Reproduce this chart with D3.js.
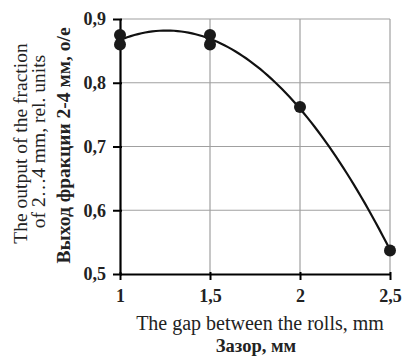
<!DOCTYPE html>
<html>
<head>
<meta charset="utf-8">
<script src="https://cdn.jsdelivr.net/npm/d3@7"></script>
<style>
  body { margin: 0; background: #fff; }
  text { font-family: "Liberation Serif", "DejaVu Serif", serif; }
</style>
</head>
<body>
<div id="chart"></div>
<script>
// measured points (gap, output)
var gapMm = [1, 1, 1.5, 1.5, 2, 2.5];
var output = [0.875, 0.86, 0.875, 0.86, 0.762, 0.537];
var xTicks = [1, 1.5, 2, 2.5];
var yTicks = [0.5, 0.6, 0.7, 0.8, 0.9];

var W = 403, H = 356;
var margin = {top: 19, right: 13, bottom: 82, left: 120},
    width = W - margin.left - margin.right,
    height = H - margin.top - margin.bottom;

var x = d3.scaleLinear().domain([1, 2.5]).range([0, width]);
var y = d3.scaleLinear().domain([0.5, 0.9]).range([height, 0]);

var svg = d3.select("#chart").append("svg")
    .attr("width", W)
    .attr("height", H)
  .append("g")
    .attr("transform", "translate(" + margin.left + "," + margin.top + ")");

// grid
svg.selectAll(".hgrid")
    .data(yTicks.slice(1))
  .enter().append("line")
    .attr("x1", 0).attr("x2", width)
    .attr("y1", function(d) { return y(d); })
    .attr("y2", function(d) { return y(d); })
    .attr("stroke", "#a0a0a0").attr("stroke-width", 1.2);

svg.selectAll(".vgrid")
    .data(xTicks.slice(1))
  .enter().append("line")
    .attr("y1", 0).attr("y2", height)
    .attr("x1", function(d) { return x(d); })
    .attr("x2", function(d) { return x(d); })
    .attr("stroke", "#a0a0a0").attr("stroke-width", 1.2);

var fmt = function(d) { return String(d).replace(".", ","); };

var xAxis = d3.axisBottom(x).tickValues(xTicks).tickFormat(fmt).tickSize(6).tickSizeOuter(0);
var yAxis = d3.axisLeft(y).tickValues(yTicks).tickFormat(fmt).tickSize(7).tickSizeOuter(0);

var gx = svg.append("g")
    .attr("transform", "translate(0," + height + ")")
    .call(xAxis);
gx.select(".domain").attr("stroke-width", 2.2);
gx.selectAll(".tick line").attr("stroke-width", 2).attr("y1", -2);
gx.selectAll(".tick text")
    .attr("dy", "1.05em")
    .style("font-size", "18px").style("font-weight", "bold").attr("fill", "#222");

var gy = svg.append("g").call(yAxis);
gy.select(".domain").attr("stroke-width", 2.2);
gy.selectAll(".tick line").attr("stroke-width", 2).attr("x1", 2);
gy.selectAll(".tick text")
    .attr("x", -14)
    .style("font-size", "18px").style("font-weight", "bold").attr("fill", "#222");

// quadratic least squares trend line from the points
function polyFit(xs, ys) {
  var n = xs.length, s = [0, 0, 0, 0, 0], t = [0, 0, 0];
  for (var i = 0; i < n; i++) {
    for (var k = 0; k < 5; k++) s[k] += Math.pow(xs[i], k);
    for (var k = 0; k < 3; k++) t[k] += ys[i] * Math.pow(xs[i], k);
  }
  var A = [[s[0], s[1], s[2], t[0]], [s[1], s[2], s[3], t[1]], [s[2], s[3], s[4], t[2]]];
  for (var c = 0; c < 3; c++) {
    for (var r = c + 1; r < 3; r++) {
      var f = A[r][c] / A[c][c];
      for (var j = c; j < 4; j++) A[r][j] -= f * A[c][j];
    }
  }
  var coef = [0, 0, 0];
  for (var r = 2; r >= 0; r--) {
    var v = A[r][3];
    for (var j = r + 1; j < 3; j++) v -= A[r][j] * coef[j];
    coef[r] = v / A[r][r];
  }
  return coef;
}
var cf = polyFit(gapMm, output);
var trend = d3.range(1, 2.5001, 0.02).map(function(g) {
  return [g, cf[0] + cf[1] * g + cf[2] * g * g];
});

svg.append("path")
    .datum(trend)
    .attr("fill", "none")
    .attr("stroke", "#111")
    .attr("stroke-width", 2.2)
    .attr("d", d3.line()
      .x(function(d) { return x(d[0]); })
      .y(function(d) { return y(d[1]); }));

svg.selectAll(".pt")
    .data(gapMm)
  .enter().append("circle")
    .attr("cx", function(d) { return x(d); })
    .attr("cy", function(d, i) { return y(output[i]); })
    .attr("r", 6)
    .attr("fill", "#1a1a1a");

// axis titles
svg.append("text")
    .attr("x", width / 2 + 5).attr("y", height + 56)
    .attr("text-anchor", "middle")
    .style("font-size", "20px").attr("fill", "#222")
    .text("The gap between the rolls, mm");
svg.append("text")
    .attr("x", width / 2 + 1).attr("y", height + 78)
    .attr("text-anchor", "middle")
    .style("font-size", "18.5px").style("font-weight", "bold").attr("fill", "#222")
    .text("Зазор, мм");

var yt = svg.append("g")
    .attr("transform", "translate(0," + (height / 2 - 3) + ") rotate(-90)");
yt.append("text").attr("x", 0).attr("y", -93)
    .attr("text-anchor", "middle")
    .style("font-size", "19.5px").attr("fill", "#222")
    .text("The output of the fraction");
yt.append("text").attr("x", 2).attr("y", -75)
    .attr("text-anchor", "middle")
    .style("font-size", "19.5px").attr("fill", "#222")
    .text("of 2…4 mm, rel. units");
yt.append("text").attr("x", -2).attr("y", -50)
    .attr("text-anchor", "middle")
    .style("font-size", "19.5px").style("font-weight", "bold").attr("fill", "#222")
    .text("Выход фракции 2-4 мм, о/е");
</script>
</body>
</html>
